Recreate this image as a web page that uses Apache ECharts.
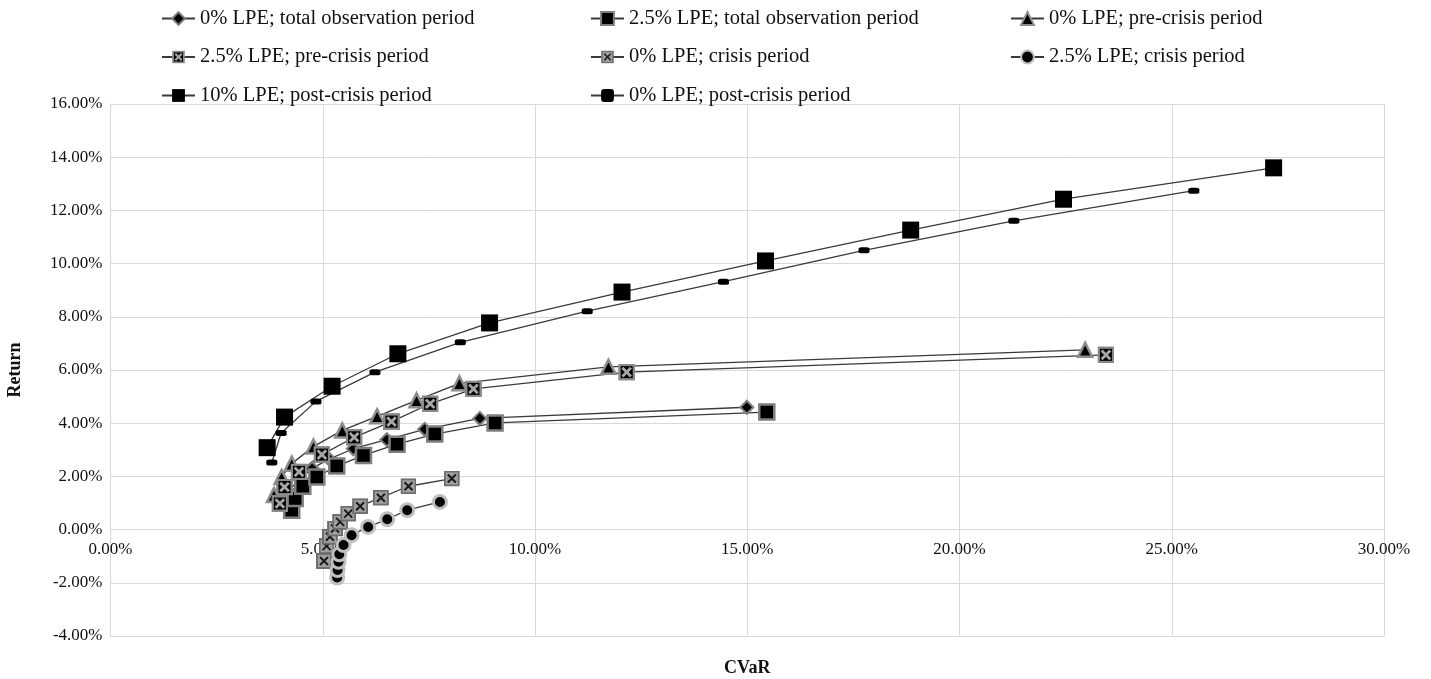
<!DOCTYPE html>
<html>
<head>
<meta charset="utf-8">
<script src="https://cdn.jsdelivr.net/npm/echarts@6/dist/echarts.min.js"></script>
<style>
  html, body { margin: 0; padding: 0; background: #fff; }
  #main { width: 1431px; height: 679px; }
</style>
</head>
<body>
<div id="main"></div>
<script>
// values in percent: [CVaR, Return]
const total0 = [[4.05,1.0],[4.2,1.45],[4.45,1.9],[4.75,2.3],[5.15,2.65],[5.72,3.04],[6.51,3.38],[7.40,3.77],[8.70,4.18],[14.99,4.6]]
const total25 = [[4.27,0.73],[4.35,1.17],[4.53,1.63],[4.86,1.98],[5.33,2.39],[5.96,2.79],[6.75,3.21],[7.64,3.59],[9.06,4.01],[15.46,4.42]]
const pre0 = [[3.85,1.3],[4.03,1.98],[4.27,2.48],[4.78,3.12],[5.46,3.73],[6.28,4.26],[7.21,4.86],[8.22,5.5],[11.73,6.12],[22.96,6.76]]
const pre25 = [[3.99,0.98],[4.10,1.6],[4.44,2.17],[4.98,2.82],[5.74,3.47],[6.62,4.06],[7.53,4.73],[8.55,5.29],[12.16,5.92],[23.45,6.57]]
const crisis0 = [[5.03,-1.18],[5.09,-0.62],[5.17,-0.27],[5.29,0.04],[5.41,0.29],[5.60,0.6],[5.88,0.88],[6.37,1.2],[7.02,1.63],[8.04,1.92]]
const crisis25 = [[5.34,-1.8],[5.35,-1.52],[5.37,-1.21],[5.39,-0.93],[5.49,-0.58],[5.68,-0.21],[6.07,0.1],[6.52,0.39],[6.99,0.73],[7.76,1.04]]
const post10 = [[3.69,3.08],[4.10,4.23],[5.22,5.39],[6.77,6.61],[8.93,7.77],[12.05,8.93],[15.43,10.1],[18.85,11.26],[22.45,12.42],[27.4,13.6]]
const post0 = [[3.80,2.52],[4.02,3.63],[4.84,4.82],[6.23,5.92],[8.24,7.04],[11.23,8.21],[14.44,9.32],[17.75,10.5],[21.28,11.61],[25.52,12.74]]

const names = [
  "0% LPE; total observation period",
  "2.5% LPE; total observation period",
  "0% LPE; pre-crisis period",
  "2.5% LPE; pre-crisis period",
  "0% LPE; crisis period",
  "2.5% LPE; crisis period",
  "10% LPE; post-crisis period",
  "0% LPE; post-crisis period"
]

const svgSymbol = svg => "image://data:image/svg+xml;utf8," + encodeURIComponent(svg)

// black square, grey cross
const xBlack = svgSymbol(`<svg xmlns='http://www.w3.org/2000/svg' width='17' height='17'>
  <rect x='1.25' y='1.25' width='14.5' height='14.5' fill='#000' stroke='#8a8a8a' stroke-width='2.5'/>
  <path d='M4.2 4.2L12.8 12.8M12.8 4.2L4.2 12.8' stroke='#a6a6a6' stroke-width='2.8'/></svg>`)

// grey square, dark cross
const xGrey = svgSymbol(`<svg xmlns='http://www.w3.org/2000/svg' width='16' height='16'>
  <rect x='1' y='1' width='14' height='14' fill='#a0a0a0' stroke='#6e6e6e' stroke-width='2'/>
  <path d='M4 4L12 12M12 4L4 12' stroke='#1a1a1a' stroke-width='2'/></svg>`)

const lineStyle = { color: "#3a3a3a", width: 1.3 }

const mk = (name, data, symbol, size, itemStyle) => ({
  name: name,
  type: "line",
  data: data,
  symbol: symbol,
  symbolSize: size,
  showSymbol: true,
  lineStyle: lineStyle,
  itemStyle: itemStyle,
  emphasis: { disabled: true },
  animation: false
})

const series = [
  mk(names[0], total0, "diamond", 13, { color: "#000", borderColor: "#7f7f7f", borderWidth: 2 }),
  mk(names[1], total25, "rect", 15, { color: "#000", borderColor: "#7f7f7f", borderWidth: 2.5 }),
  mk(names[2], pre0, "triangle", 14, { color: "#000", borderColor: "#8c8c8c", borderWidth: 2.5 }),
  mk(names[3], pre25, xBlack, 17, { color: "#000" }),
  mk(names[4], crisis0, xGrey, 16, { color: "#a0a0a0" }),
  mk(names[5], crisis25, "circle", 13, { color: "#000", borderColor: "#bfbfbf", borderWidth: 3 }),
  mk(names[6], post10, "rect", 17, { color: "#000" }),
  mk(names[7], post0, "roundRect", [11, 6], { color: "#000" })
]

const font = "Liberation Serif"
const legendText = { fontFamily: font, fontSize: 20.5, color: "#111", lineHeight: 20 }
const legendBase = {
  orient: "vertical",
  top: 8,
  padding: 0,
  itemWidth: 33,
  itemHeight: 16,
  itemGap: 17.5,
  textStyle: legendText,
  selectedMode: false
}

const pct = v => v.toFixed(2) + "%"

const option = {
  backgroundColor: "#fff",
  animation: false,
  legend: [
    Object.assign({}, legendBase, { left: 161, data: [names[0], names[3], names[6]] }),
    Object.assign({}, legendBase, { left: 590, data: [names[1], names[4], names[7]] }),
    Object.assign({}, legendBase, { left: 1010, data: [names[2], names[5]] })
  ],
  grid: { left: 110.5, right: 47, top: 104, bottom: 43, containLabel: false, outerBoundsMode: "none" },
  xAxis: {
    type: "value",
    min: 0, max: 30, interval: 5,
    name: "CVaR",
    nameLocation: "middle",
    nameGap: 23,
    nameTextStyle: { fontFamily: font, fontSize: 18, fontWeight: "bold", color: "#111" },
    axisLine: { show: true, onZero: false, lineStyle: { color: "#d9d9d9" } },
    axisTick: { show: false },
    // labels sit next to the 0% line, as in the original
    axisLabel: { formatter: pct, fontFamily: font, fontSize: 17, color: "#111", margin: -95 },
    splitLine: { show: true, lineStyle: { color: "#d9d9d9", width: 1 } }
  },
  yAxis: {
    type: "value",
    min: -4, max: 16, interval: 2,
    name: "Return",
    nameLocation: "middle",
    nameRotate: 90,
    nameGap: 86,
    nameTextStyle: { fontFamily: font, fontSize: 18, fontWeight: "bold", color: "#111" },
    axisLine: { show: true, onZero: false, lineStyle: { color: "#d9d9d9" } },
    axisTick: { show: false },
    axisLabel: { formatter: pct, fontFamily: font, fontSize: 17, color: "#111", margin: 8 },
    splitLine: { show: true, lineStyle: { color: "#d9d9d9", width: 1 } }
  },
  series: series
}

const chart = echarts.init(document.getElementById("main"))
chart.setOption(option)
</script>
</body>
</html>
